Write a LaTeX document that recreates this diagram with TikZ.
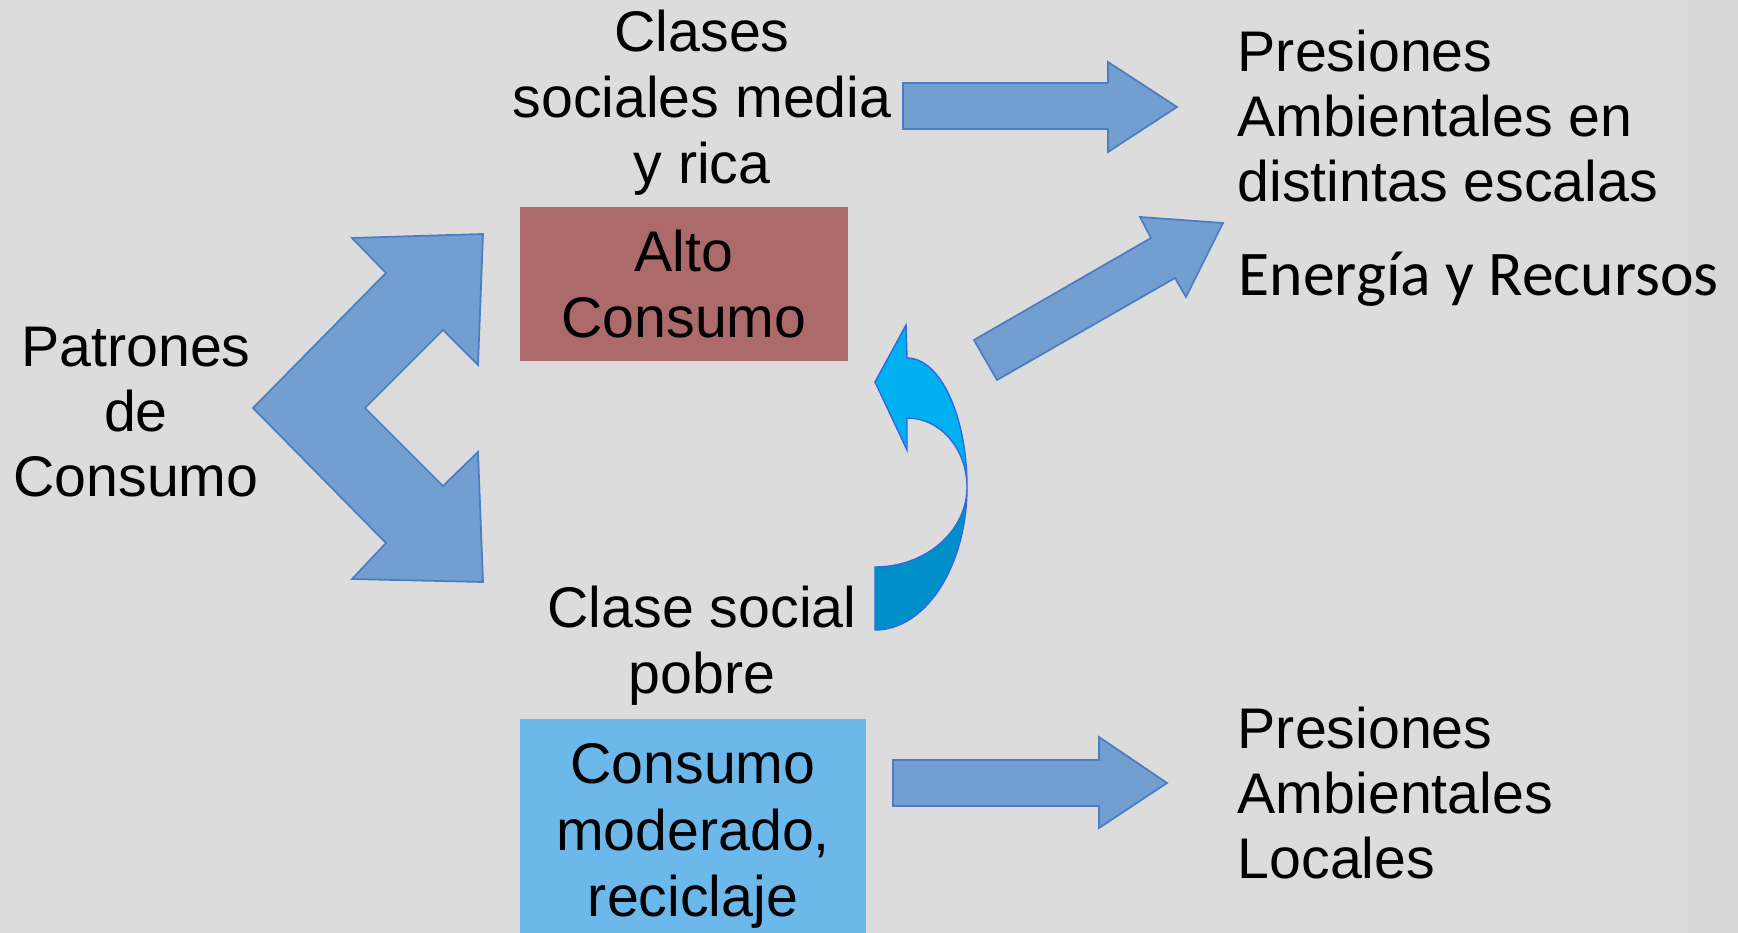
\documentclass[tikz,border=0pt]{standalone}
\usepackage{fontspec}
\setmainfont{Liberation Sans}
\newfontfamily\calibri{Carlito}
\definecolor{fondo}{RGB}{220,220,220}
\definecolor{fondoborde}{RGB}{215,215,215}
\definecolor{flecha}{RGB}{114,159,207}
\definecolor{flechaborde}{RGB}{75,125,195}
\definecolor{alto}{RGB}{172,107,106}
\definecolor{moderado}{RGB}{108,184,234}
\definecolor{curvaclara}{RGB}{0,176,240}
\definecolor{curvaoscura}{RGB}{0,143,200}
\definecolor{curvaborde}{RGB}{45,105,225}
\tikzset{
  texto/.style={align=center,inner sep=0pt,font=\fontsize{16.3}{18.6}\selectfont},
  textoizq/.style={texto,align=left,anchor=west},
  caja/.style={texto,minimum width=3.28cm},
  bloque/.style={fill=flecha,draw=flechaborde,line width=0.5pt,line join=miter},
  curva/.style={draw=curvaborde,line width=0.4pt}
}
\begin{document}
\begin{tikzpicture}

\fill[fondo] (0,0) rectangle (17.38,-9.33);
\fill[fondoborde] (16.88,0) rectangle (17.38,-9.33);
\useasboundingbox (0,0) rectangle (17.38,-9.33);

\node[caja,fill=alto,minimum height=1.54cm] (alto) at (6.84,-2.84) {Alto\\Consumo};
\node[caja,fill=moderado,minimum width=3.46cm,minimum height=2.34cm,font=\fontsize{16.3}{18.9}\selectfont] (moderado) at (6.93,-8.36) {Consumo\\moderado,\\reciclaje};

\node[texto,font=\fontsize{16.3}{18.8}\selectfont] (clases) at (7.02,-1.03) {Clases\\sociales media\\y rica};
\node[texto] (patrones) at (1.36,-4.12) {Patrones\\de\\Consumo};
\node[texto,font=\fontsize{16.3}{18.8}\selectfont] (pobre) at (7.02,-6.46) {Clase social\\pobre};
\node[textoizq] (escalas) at (12.37,-1.16) {Presiones\\Ambientales en\\distintas escalas};
\node[textoizq,font=\calibri\fontsize{18.1}{20}\selectfont] (energia) at (12.38,-2.79) {Energía y Recursos};
\node[textoizq] (locales) at (12.37,-7.93) {Presiones\\Ambientales\\Locales};

% chevron de los patrones
\draw[bloque] (2.53,-4.08)--(3.86,-2.73)--(3.52,-2.38)--(4.83,-2.34)--(4.78,-3.65)--(4.43,-3.30)
  --(3.65,-4.08)--(4.43,-4.86)--(4.78,-4.52)--(4.83,-5.82)--(3.52,-5.79)--(3.86,-5.43)--cycle;

\draw[bloque] (9.03,-0.83)--(11.08,-0.83)--(11.08,-0.62)--(11.77,-1.07)--(11.08,-1.52)--(11.08,-1.29)--(9.03,-1.29)--cycle;
\draw[bloque] (8.93,-7.60)--(10.99,-7.60)--(10.99,-7.37)--(11.67,-7.83)--(10.99,-8.28)--(10.99,-8.06)--(8.93,-8.06)--cycle;
\draw[bloque] (9.74,-3.40)--(11.51,-2.38)--(11.40,-2.17)--(12.23,-2.23)--(11.86,-2.97)--(11.75,-2.78)--(9.97,-3.80)--cycle;

% flecha curva
\draw[curva,fill=curvaoscura] (8.75,-6.30) arc[start angle=-90,end angle=0,x radius=0.92,y radius=1.43]
  arc[start angle=0,end angle=-90,x radius=0.92,y radius=0.80] -- cycle;
\draw[curva,fill=curvaclara] (9.07,-3.58) arc[start angle=90,end angle=0,x radius=0.6,y radius=1.29]
  arc[start angle=0,end angle=90,x radius=0.6,y radius=0.69] -- (9.07,-4.50) -- (8.75,-3.82) -- (9.06,-3.25) -- cycle;

\end{tikzpicture}
\end{document}
